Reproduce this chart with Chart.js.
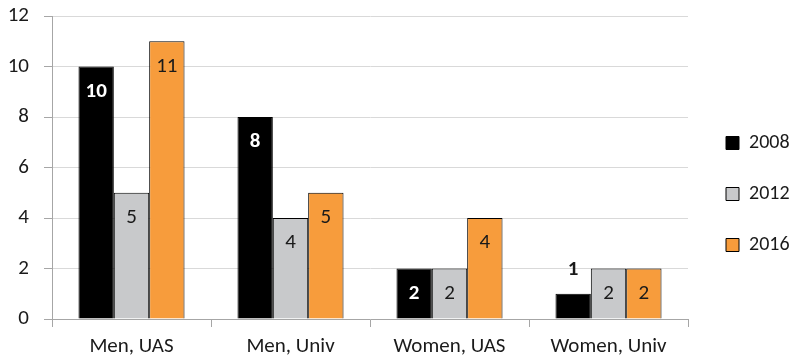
<!DOCTYPE html>
<html>
<head>
<meta charset="utf-8">
<script src="https://cdn.jsdelivr.net/npm/chart.js@4/dist/chart.umd.min.js"></script>
<style>
  html, body { margin: 0; padding: 0; background: #fff; }
  #wrap { width: 791px; height: 360px; }
</style>
</head>
<body>
<div id="wrap"><canvas id="c" width="791" height="360"></canvas></div>
<script>
const categories = ['Men, UAS', 'Men, Univ', 'Women, UAS', 'Women, Univ'];
const years = ['2008', '2012', '2016'];
const values2008 = [10, 8, 2, 1];
const values2012 = [5, 4, 2, 2];
const values2016 = [11, 5, 4, 2];
const yTicks = [0, 2, 4, 6, 8, 10, 12];

const FONT = 'Carlito, Calibri, Lato, "Open Sans", sans-serif';
const TEXT = '#1a1a1a';

// Value labels drawn inside the top of each bar (or above a short bar)
const valueLabels = {
  id: 'valueLabels',
  afterDatasetsDraw(chart) {
    const ctx = chart.ctx;
    ctx.save();
    ctx.textAlign = 'center';
    ctx.textBaseline = 'middle';
    chart.data.datasets.forEach((ds, di) => {
      const meta = chart.getDatasetMeta(di);
      meta.data.forEach((bar, i) => {
        const v = ds.data[i];
        const h = bar.base - bar.y;
        const bold = di === 0;
        ctx.font = (bold ? 'bold ' : '') + '21px ' + FONT;
        if (h < 40) {
          ctx.fillStyle = TEXT;
          ctx.fillText(String(v), bar.x, bar.y - 24);
        } else {
          ctx.fillStyle = bold ? '#ffffff' : TEXT;
          ctx.fillText(String(v), bar.x, bar.y + 25);
        }
      });
    });
    ctx.restore();
  }
};

// Fixed legend column width, with its items nudged right inside it
const legendColumn = {
  id: 'legendColumn',
  beforeInit(chart) {
    const legend = chart.legend;
    const fit = legend.fit;
    legend.fit = function () {
      fit.call(this);
      this.width = 103;
    };
    const draw = legend.draw;
    legend.draw = function () {
      const ctx = this.ctx;
      ctx.save();
      ctx.translate(7, 0);
      draw.apply(this, arguments);
      ctx.restore();
    };
  }
};

new Chart(document.getElementById('c'), {
  type: 'bar',
  data: {
    labels: categories,
    datasets: [
      { label: years[0], data: values2008, backgroundColor: '#000000', borderColor: '#000000', borderWidth: 1 },
      { label: years[1], data: values2012, backgroundColor: '#C8C9CB', borderColor: '#000000', borderWidth: 1 },
      { label: years[2], data: values2016, backgroundColor: '#F79C3C', borderColor: '#000000', borderWidth: 1 }
    ]
  },
  options: {
    responsive: false,
    animation: false,
    layout: { padding: { top: 16, left: 0, right: 0, bottom: 0 } },
    datasets: { bar: { barPercentage: 1, categoryPercentage: 0.667 } },
    plugins: {
      tooltip: { enabled: false },
      legend: {
        position: 'right',
        align: 'center',
        title: { display: true, text: '', font: { size: 10 }, padding: { top: 0, bottom: 0 } },
        labels: {
          boxWidth: 13,
          boxHeight: 13,
          padding: 31,
          color: TEXT,
          font: { family: FONT, size: 20 },
          useBorderRadius: false
        }
      }
    },
    scales: {
      x: {
        afterFit(scale) { scale.height = 41; },
        grid: { display: true, drawOnChartArea: false, offset: true, color: '#A6A6A6', tickLength: 8 },
        border: { color: '#A6A6A6', width: 1 },
        ticks: { color: TEXT, font: { family: FONT, size: 21 }, padding: 7 }
      },
      y: {
        min: 0,
        max: 12,
        afterBuildTicks(scale) { scale.ticks = yTicks.map(v => ({ value: v })); },
        afterFit(scale) {
          scale.width = 52;
          scale.paddingTop = 0;
          scale.paddingBottom = 0;
        },
        grid: { color: '#D9D9D9', tickLength: 8, tickColor: '#A6A6A6' },
        border: { color: '#A6A6A6', width: 1 },
        ticks: { color: TEXT, font: { family: FONT, size: 21 }, padding: 15 }
      }
    }
  },
  plugins: [valueLabels, legendColumn]
});
</script>
</body>
</html>
